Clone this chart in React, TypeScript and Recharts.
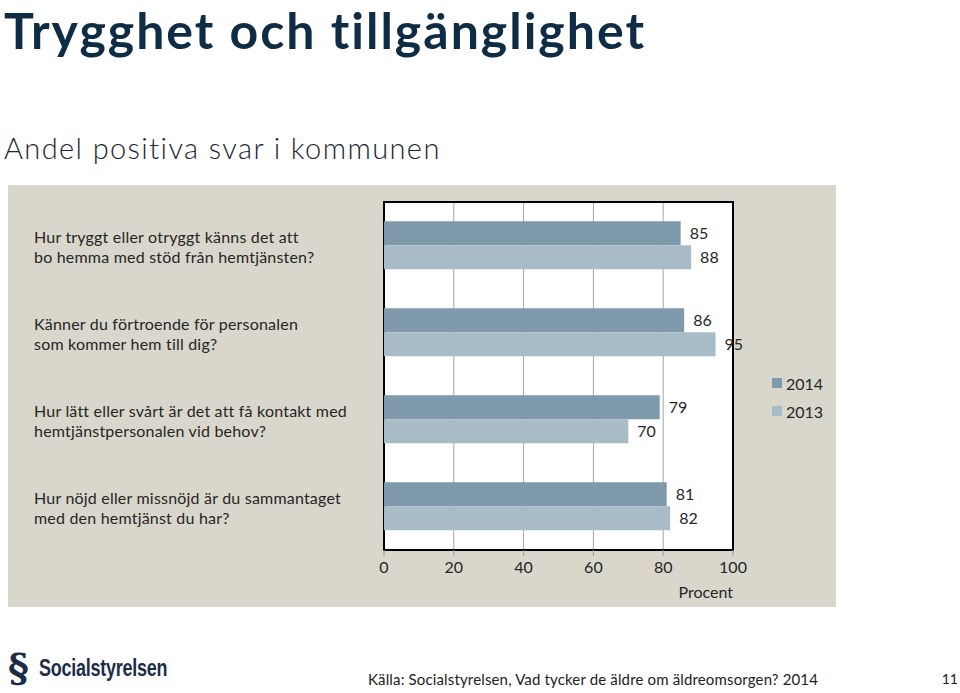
import { BarChart, Bar, XAxis, YAxis, CartesianGrid, LabelList, ReferenceArea, Label } from 'recharts'

const categories = [
  'Hur tryggt eller otryggt känns det att\nbo hemma med stöd från hemtjänsten?',
  'Känner du förtroende för personalen\nsom kommer hem till dig?',
  'Hur lätt eller svårt är det att få kontakt med\nhemtjänstpersonalen vid behov?',
  'Hur nöjd eller missnöjd är du sammantaget\nmed den hemtjänst du har?',
]
const values2014 = [85, 86, 79, 81]
const values2013 = [88, 95, 70, 82]
const xTicks = [0, 20, 40, 60, 80, 100]
const seriesNames = ['2014', '2013']
const seriesColors = ['#7f9aac', '#a8bcc7']

const data = categories.map((name, i) => ({
  name,
  y2014: values2014[i],
  y2013: values2013[i],
}))

const font = 'Lato, "Open Sans", sans-serif'

function CategoryTick(props: any) {
  const { y, payload } = props
  const lines: string[] = String(payload.value).split('\n')
  return (
    <text x={26} y={y - 3} fontSize={16} fill="#262626" fontFamily={font} textAnchor="start" letterSpacing={0.2}>
      {lines.map((line, i) => (
        <tspan key={i} x={26} dy={i === 0 ? 0 : 20}>
          {line}
        </tspan>
      ))}
    </text>
  )
}

export default function App() {
  return (
    <div style={{ position: 'absolute', left: 0, top: 0, width: 960, height: 693, background: '#fff', overflow: 'hidden', fontFamily: font }}>
      <div style={{ position: 'absolute', left: 4, top: 2, fontSize: 50, lineHeight: '56px', fontWeight: 700, color: '#0f2c45', whiteSpace: 'nowrap', letterSpacing: 2 }}>
        Trygghet och tillgänglighet
      </div>
      <div style={{ position: 'absolute', left: 4, top: 130, fontSize: 29, lineHeight: '36px', fontWeight: 300, color: '#1b2633', whiteSpace: 'nowrap', letterSpacing: 1.4 }}>
        Andel positiva svar i kommunen
      </div>
      <div style={{ position: 'absolute', left: 8, top: 185, width: 828, height: 422, background: '#d9d7cb' }}>
        <BarChart
          width={828}
          height={422}
          data={data}
          layout="vertical"
          margin={{ top: 17, right: 103, bottom: 9, left: 0 }}
          barCategoryGap="22%"
          barGap={0}
        >
          <CartesianGrid horizontal={false} vertical stroke="#a5a5a5" fill="#fff" />
          <XAxis
            type="number"
            domain={[0, 100]}
            ticks={xTicks}
            axisLine={false}
            tickLine={{ stroke: '#999' }}
            tickSize={6}
            tick={{ fontSize: 16, fill: '#262626', fontFamily: font, dy: 4 }}
            height={48}
          >
            <Label value="Procent" position="insideBottomRight" offset={0} fontSize={16} fill="#262626" fontFamily={font} />
          </XAxis>
          <YAxis type="category" dataKey="name" width={376} axisLine={false} tickLine={false} tick={<CategoryTick />} />
          <ReferenceArea x1={0} x2={100} fill="none" stroke="#000" strokeWidth={2} ifOverflow="visible" />
          <Bar dataKey="y2014" name={seriesNames[0]} fill={seriesColors[0]} isAnimationActive={false}>
            <LabelList dataKey="y2014" position="right" offset={9} fontSize={16} fill="#262626" fontFamily={font} />
          </Bar>
          <Bar dataKey="y2013" name={seriesNames[1]} fill={seriesColors[1]} isAnimationActive={false}>
            <LabelList dataKey="y2013" position="right" offset={9} fontSize={16} fill="#262626" fontFamily={font} />
          </Bar>
        </BarChart>
        <div style={{ position: 'absolute', left: 764, top: 184, fontSize: 16, color: '#262626' }}>
          {seriesNames.map((s, i) => (
            <div key={s} style={{ display: 'flex', alignItems: 'center', height: 28 }}>
              <span style={{ width: 10, height: 10, background: seriesColors[i], marginRight: 4 }} />
              {s}
            </div>
          ))}
        </div>
      </div>
      <div style={{ position: 'absolute', left: 8, top: 646, display: 'flex', alignItems: 'center', color: '#1c2e47' }}>
        <span style={{ fontFamily: '"DejaVu Serif", serif', fontSize: 40, lineHeight: '44px', fontWeight: 700, marginRight: 10 }}>§</span>
        <span style={{ fontFamily: '"Liberation Sans", sans-serif', fontSize: 23, fontWeight: 700, display: 'inline-block', transform: 'scaleX(0.78)', transformOrigin: 'left center', letterSpacing: -0.3 }}>
          Socialstyrelsen
        </span>
      </div>
      <div style={{ position: 'absolute', left: 368, top: 670, fontSize: 15, color: '#222', whiteSpace: 'nowrap', letterSpacing: 0.15 }}>
        Källa: Socialstyrelsen, Vad tycker de äldre om äldreomsorgen? 2014
      </div>
      <div style={{ position: 'absolute', right: 2, top: 670, fontSize: 14, color: '#222' }}>11</div>
    </div>
  )
}
